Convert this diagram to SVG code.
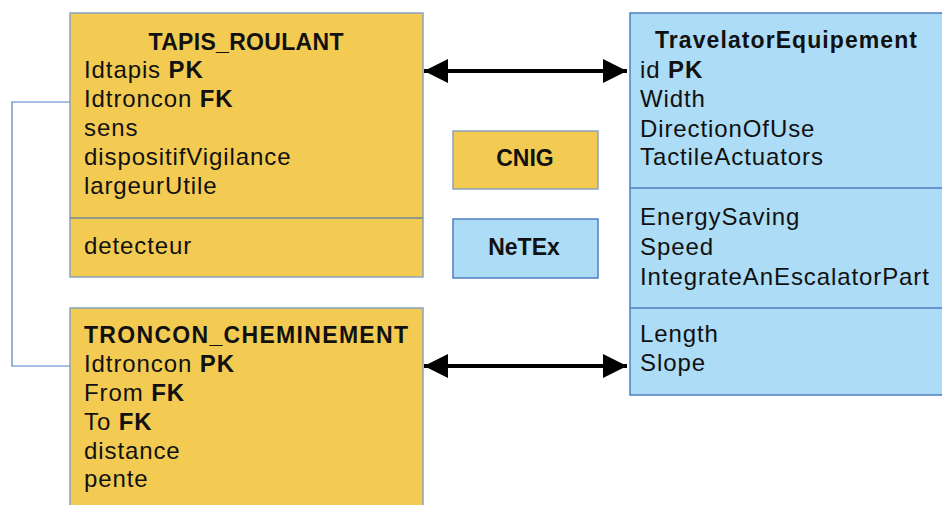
<svg xmlns="http://www.w3.org/2000/svg" width="942" height="505" viewBox="0 0 942 505">
<style>
.y{fill:#F3CB52;stroke:#8AA3BC;stroke-width:1.5}
.b{fill:#ADDCF6;stroke:#4F7FC2;stroke-width:1.5}
.div{stroke-width:1.5}
text{font-family:"Liberation Sans",Arial,sans-serif;font-size:24px;fill:#111;letter-spacing:0.9px}
.t{font-weight:bold;font-size:23px;letter-spacing:0}
.k{font-weight:bold}
.c{stroke:#000;stroke-width:4;fill:none}
.fk{stroke:#4F7FC2;stroke-width:1.2;fill:none}
</style>
<defs>
<marker id="ah" viewBox="0 0 10 10" refX="10" refY="5" markerWidth="6" markerHeight="6" orient="auto-start-reverse" markerUnits="strokeWidth">
<path d="M0,0 L10,5 L0,10 Z" fill="#000"/>
</marker>
</defs>
<rect width="942" height="505" fill="#fff"/>
<g id="tapis">
<rect class="y" x="70" y="13" width="353" height="264"/>
<line class="div" x1="70" y1="218" x2="423" y2="218" stroke="#6F879E"/>
<text class="t" x="246" y="50" text-anchor="middle" textLength="195">TAPIS_ROULANT</text>
<text x="84" y="78">Idtapis <tspan class="k">PK</tspan></text>
<text x="84" y="107">Idtroncon <tspan class="k">FK</tspan></text>
<text x="84" y="136">sens</text>
<text x="84" y="165">dispositifVigilance</text>
<text x="84" y="194">largeurUtile</text>
<text x="84" y="254">detecteur</text>
</g>
<g id="troncon">
<rect class="y" x="70" y="308" width="353" height="210"/>
<text class="t" x="84" y="343" textLength="324">TRONCON_CHEMINEMENT</text>
<text x="84" y="372">Idtroncon <tspan class="k">PK</tspan></text>
<text x="84" y="401">From <tspan class="k">FK</tspan></text>
<text x="84" y="430">To <tspan class="k">FK</tspan></text>
<text x="84" y="459">distance</text>
<text x="84" y="487">pente</text>
</g>
<g id="cnig">
<rect class="y" x="453" y="131" width="145" height="58" stroke="#8B9DAD"/>
<text class="t" x="525" y="166" text-anchor="middle">CNIG</text>
</g>
<g id="netex">
<rect class="b" x="453" y="219" width="145" height="59" stroke="#7FA6CF"/>
<text class="t" x="524" y="255" text-anchor="middle">NeTEx</text>
</g>
<g id="travelator">
<rect class="b" x="630" y="13" width="330" height="382"/>
<line x1="630" y1="188" x2="942" y2="188" stroke="#4F7FC2" stroke-width="1.5"/>
<line x1="630" y1="308" x2="942" y2="308" stroke="#4F7FC2" stroke-width="1.5"/>
<text class="t" x="786" y="48" text-anchor="middle" textLength="262">TravelatorEquipement</text>
<text x="640" y="78">id <tspan class="k">PK</tspan></text>
<text x="640" y="107">Width</text>
<text x="640" y="137">DirectionOfUse</text>
<text x="640" y="165">TactileActuators</text>
<text x="640" y="225">EnergySaving</text>
<text x="640" y="255">Speed</text>
<text x="640" y="285">IntegrateAnEscalatorPart</text>
<text x="640" y="342">Length</text>
<text x="640" y="371">Slope</text>
</g>
<g id="connectors">
<line class="c" x1="424" y1="71" x2="627" y2="71" marker-start="url(#ah)" marker-end="url(#ah)"/>
<line class="c" x1="424" y1="366" x2="627" y2="366" marker-start="url(#ah)" marker-end="url(#ah)"/>
<polyline class="fk" points="70,102 12,102 12,366 70,366"/>
</g>
</svg>
